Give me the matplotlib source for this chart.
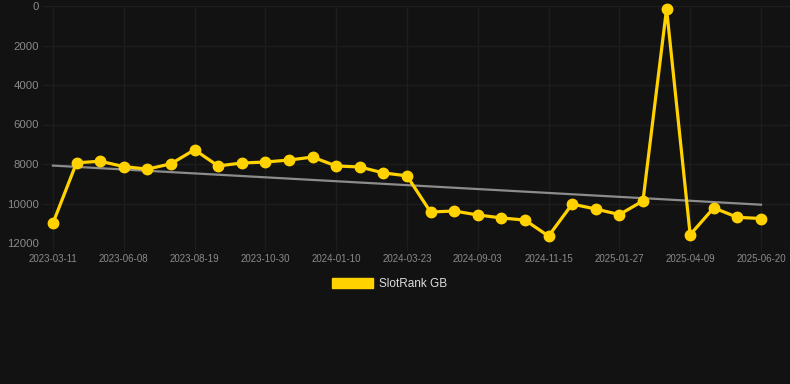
import matplotlib
matplotlib.use("Agg")
import matplotlib.pyplot as plt
import numpy as np
from matplotlib.patches import Patch

# Data (category axis, 31 observations)
rank_values = [11000, 7940, 7860, 8130, 8260, 7990, 7280, 8100, 7950, 7900,
               7800, 7650, 8100, 8150, 8450, 8600, 10430, 10380, 10580, 10730,
               10840, 11650, 10030, 10280, 10560, 9870, 140, 11580, 10220, 10700,
               10760]
tick_labels = ["2023-03-11", "2023-06-08", "2023-08-19", "2023-10-30", "2024-01-10",
               "2024-03-23", "2024-09-03", "2024-11-15", "2025-01-27", "2025-04-09",
               "2025-06-20"]
trend_start = 8080
trend_end = 10060
y_ticks = [0, 2000, 4000, 6000, 8000, 10000, 12000]
series_name = "SlotRank GB"

BG = "#121212"
YELLOW = "#FFD200"
GRID = "#1d1d1d"
TICK_COLOR = "#8a8a8a"

x = np.arange(len(rank_values))
tick_pos = np.arange(0, len(rank_values), 3)

fig = plt.figure(figsize=(7.9, 3.84), dpi=100, facecolor=BG)
ax = fig.add_axes([43 / 790, 1 - 243 / 384, 1 - 43 / 790, (243 - 6) / 384])
ax.set_facecolor(BG)

ax.plot([x[0], x[-1]], [trend_start, trend_end], color="#8c8c8c", lw=1.6, zorder=2)
ax.plot(x, rank_values, color=YELLOW, lw=2.3, marker="o", markersize=7.5,
        markerfacecolor=YELLOW, markeredgecolor=YELLOW, zorder=3, clip_on=False)

ax.set_xlim(-0.42, 31.23)
ax.set_ylim(12000, 0)
ax.set_yticks(y_ticks)
ax.set_yticklabels([str(v) for v in y_ticks])
ax.set_xticks(tick_pos)
ax.set_xticklabels(tick_labels)

ax.grid(True, color=GRID, lw=1)
ax.set_axisbelow(True)
for s in ax.spines.values():
    s.set_visible(False)

ax.tick_params(axis="y", length=0, pad=3, labelsize=8.2, labelcolor=TICK_COLOR)
ax.tick_params(axis="x", length=6, color=GRID, pad=2, labelsize=7, labelcolor=TICK_COLOR)
for lab in ax.get_xticklabels() + ax.get_yticklabels():
    lab.set_fontfamily("Liberation Sans")

handle = Patch(facecolor=YELLOW, edgecolor=YELLOW)
leg = fig.legend([handle], [series_name], loc="center", bbox_to_anchor=(389.5 / 790, 1 - 284 / 384),
                 frameon=False, handlelength=3.47, handleheight=1.0, handletextpad=0.5,
                 borderpad=0, prop={"family": "Liberation Sans", "size": 8.5})
for t in leg.get_texts():
    t.set_color("#dddddd")

fig.savefig("out.png", dpi=100, facecolor=BG)
